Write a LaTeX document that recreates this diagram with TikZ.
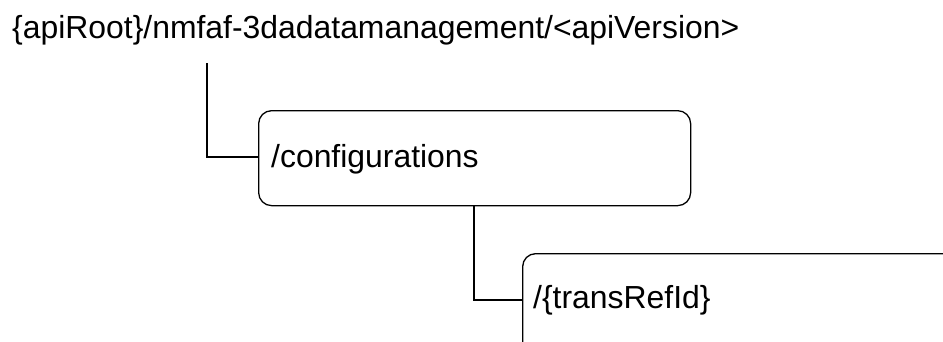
\documentclass[tikz,border=0pt]{standalone}
\usepackage{fontspec}
\setmainfont{Liberation Sans}
\tikzset{
  res/.style={draw, line width=1.3pt, rounded corners=13pt, inner sep=0pt},
  lbl/.style={anchor=base west, inner sep=0pt, font=\fontsize{31.9}{36}\selectfont},
  conn/.style={draw, line width=1.3pt},
}
\begin{document}
\begin{tikzpicture}[x=1pt,y=-1pt]
\useasboundingbox (0,0) rectangle (943,341);
\clip (0,0) rectangle (943,341);
\node[lbl] (root) at (12,38) {\{apiRoot\}/nmfaf-3dadatamanagement/<apiVersion>};
\node[res, minimum width=432pt, minimum height=95pt, anchor=north west] (cfg) at (258,110) {};
\node[lbl] (cfgt) at (271,167) {/configurations};
\node[res, minimum width=500pt, minimum height=160pt, anchor=north west] (tr) at (522,253) {};
\node[lbl] (trt) at (533,308) {/\{transRefId\}};
\coordinate (r0) at (207,63);
\path[conn] (r0) |- (cfg.west |- 0,157);
\coordinate (c0) at (474,205);
\path[conn] (c0) |- (tr.west |- 0,300);
\end{tikzpicture}
\end{document}
